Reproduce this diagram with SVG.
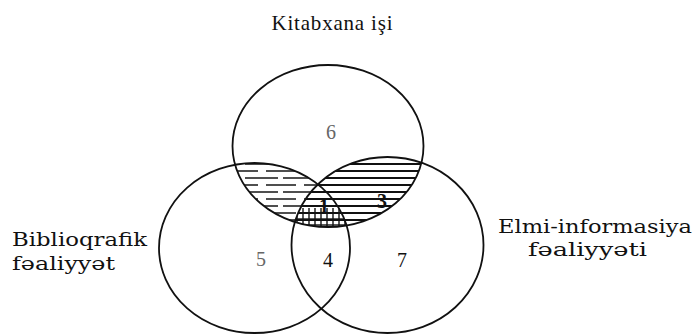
<svg xmlns="http://www.w3.org/2000/svg" width="697" height="336" viewBox="0 0 697 336">
<style>
.c{fill:none;stroke:#111;stroke-width:1.8}
.t{font-family:"DejaVu Serif","Liberation Serif",serif;fill:#111}
.n{font-family:"Liberation Serif","Times New Roman",serif;font-size:20px;text-anchor:middle;fill:#111}
.nb{font-weight:bold}
.nl{fill:#666}
</style>
<defs>
<pattern id="hs" width="8" height="7" patternUnits="userSpaceOnUse">
<line x1="0" y1="3" x2="8" y2="3" stroke="#111" stroke-width="2"/>
</pattern>
<pattern id="hd" width="38" height="14" patternUnits="userSpaceOnUse">
<line x1="0" y1="3" x2="30" y2="3" stroke="#222" stroke-width="1.6"/>
<line x1="0" y1="10" x2="12" y2="10" stroke="#222" stroke-width="1.6"/>
<line x1="17" y1="10" x2="38" y2="10" stroke="#222" stroke-width="1.6"/>
</pattern>
<pattern id="vg" width="6" height="6" patternUnits="userSpaceOnUse">
<line x1="3" y1="0" x2="3" y2="6" stroke="#111" stroke-width="1.4"/>
<line x1="0" y1="3" x2="6" y2="3" stroke="#111" stroke-width="1.4"/>
</pattern>
<clipPath id="cTop"><ellipse cx="328" cy="146" rx="95.5" ry="81"/></clipPath>
<clipPath id="cLeft"><ellipse cx="254.5" cy="248" rx="95.5" ry="85"/></clipPath>
<clipPath id="cRight"><ellipse cx="387.5" cy="245" rx="96" ry="88"/></clipPath>
</defs>
<g id="hatching">
<g clip-path="url(#cTop)"><ellipse cx="254.5" cy="248" rx="95.5" ry="85" fill="url(#hd)"/></g>
<g clip-path="url(#cTop)"><ellipse cx="387.5" cy="245" rx="96" ry="88" fill="url(#hs)"/></g>
<g clip-path="url(#cTop)"><g clip-path="url(#cLeft)"><g clip-path="url(#cRight)"><rect x="280" y="208" width="90" height="30" fill="url(#vg)"/></g></g></g>
</g>
<g id="top"><ellipse class="c" cx="328" cy="146" rx="95.5" ry="81"/><text class="n nl" x="331" y="139">6</text></g>
<g id="left"><ellipse class="c" cx="254.5" cy="248" rx="95.5" ry="85"/><text class="n nl" x="261" y="266">5</text></g>
<g id="right"><ellipse class="c" cx="387.5" cy="245" rx="96" ry="88"/><text class="n" x="402" y="267">7</text></g>
<g id="center">
<text class="n" x="328" y="267">4</text>
<text class="n nb" x="324" y="213">1</text>
<text class="n nb" x="382" y="208">3</text>
</g>
<g id="labels">
<text x="332" y="30" font-family="Liberation Serif, serif" font-size="21" fill="#111" text-anchor="middle" textLength="121" lengthAdjust="spacing">Kitabxana işi</text>
<text class="t" x="12" y="246" font-size="18" textLength="135" lengthAdjust="spacingAndGlyphs">Biblioqrafik</text>
<text class="t" x="12" y="270" font-size="18" textLength="103" lengthAdjust="spacingAndGlyphs">fəaliyyət</text>
<text class="t" x="498" y="233" font-size="18" textLength="194" lengthAdjust="spacingAndGlyphs">Elmi-informasiya</text>
<text class="t" x="528" y="256" font-size="18" textLength="119" lengthAdjust="spacingAndGlyphs">fəaliyyəti</text>
</g>
</svg>
